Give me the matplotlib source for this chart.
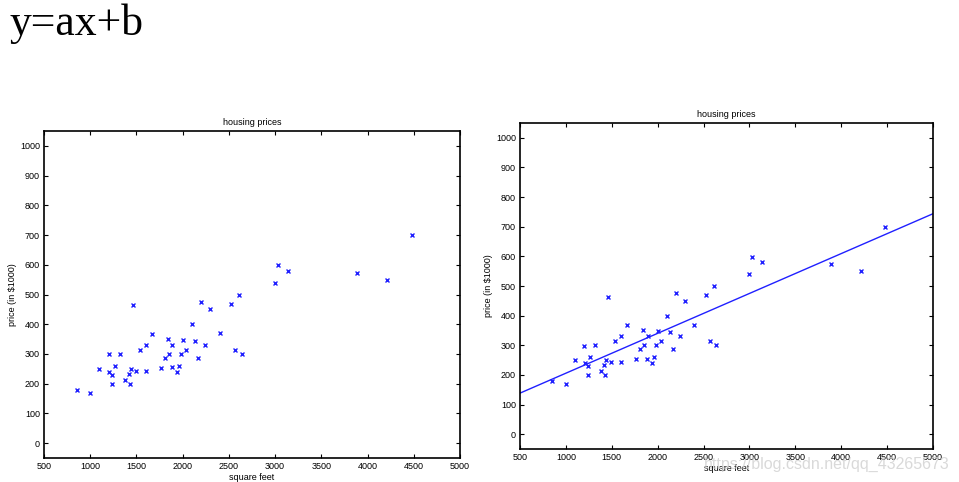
import numpy as np
import matplotlib
matplotlib.use("Agg")
import matplotlib.pyplot as plt

sqft = [2104, 1600, 2400, 1416, 3000, 1985, 1534, 1427, 1380, 1494, 1940, 2000,
        1890, 4478, 1268, 2300, 1320, 1236, 2609, 3031, 1767, 1888, 1604, 1962,
        3890, 1100, 1458, 2526, 2200, 2637, 1839, 1000, 2040, 3137, 1811, 1437,
        1239, 2132, 4215, 2162, 1664, 2238, 2567, 1200, 852, 1852, 1203]
price = [399.9, 329.9, 369.0, 232.0, 539.9, 299.9, 314.9, 199.0, 212.0, 242.5,
         240.0, 347.0, 330.0, 699.9, 259.9, 449.9, 299.9, 199.9, 500.0, 599.0,
         252.9, 255.0, 242.9, 259.9, 573.9, 249.9, 464.5, 469.0, 475.0, 299.9,
         349.9, 169.9, 314.9, 579.9, 285.9, 249.9, 229.9, 345.0, 549.0, 287.0,
         368.5, 329.9, 314.0, 299.0, 179.9, 299.9, 239.5]
xticks = [500, 1000, 1500, 2000, 2500, 3000, 3500, 4000, 4500, 5000]
yticks = [0, 100, 200, 300, 400, 500, 600, 700, 800, 900, 1000]

plt.rcParams['font.family'] = ['Liberation Sans', 'DejaVu Sans']

fig = plt.figure(figsize=(9.59, 4.82), dpi=100)
W, H = 959, 482

fig.text(9 / W, 1 - 24 / H, "y=ax+b", family='Liberation Serif', fontsize=31.5,
         va='center', ha='left')

def make_ax(l, t, r, b):
    ax = fig.add_axes([l / W, 1 - b / H, (r - l) / W, (b - t) / H])
    ax.set_xlim(500, 5000)
    ax.set_ylim(-50, 1050)
    ax.set_xticks(xticks)
    ax.set_yticks(yticks)
    ax.tick_params(direction='in', top=True, right=True, labelsize=6.5,
                   length=3, width=0.8, pad=3)
    for s in ax.spines.values():
        s.set_linewidth(1.2)
    ax.set_title("housing prices", fontsize=6.5, pad=4)
    ax.set_xlabel("square feet", fontsize=6.5, labelpad=1)
    ax.set_ylabel("price (in $1000)", fontsize=6.5, labelpad=2)
    ax.plot(sqft, price, 'x', color='#2020ff', markersize=3.5, mew=1.0)
    return ax

ax1 = make_ax(44, 131, 460, 458)
ax2 = make_ax(520, 123, 933, 449)

a, b = np.polyfit(sqft, price, 1)
xl = np.array([500, 5000])
ax2.plot(xl, a * xl + b, '-', color='#2020ff', lw=1.0)

fig.text(950 / W, 1 - 464 / H, "https://blog.csdn.net/qq_43265673", fontsize=11.5,
         color='#d0d0d0', ha='right', va='center', alpha=0.8)

fig.savefig("out.png", dpi=100)
